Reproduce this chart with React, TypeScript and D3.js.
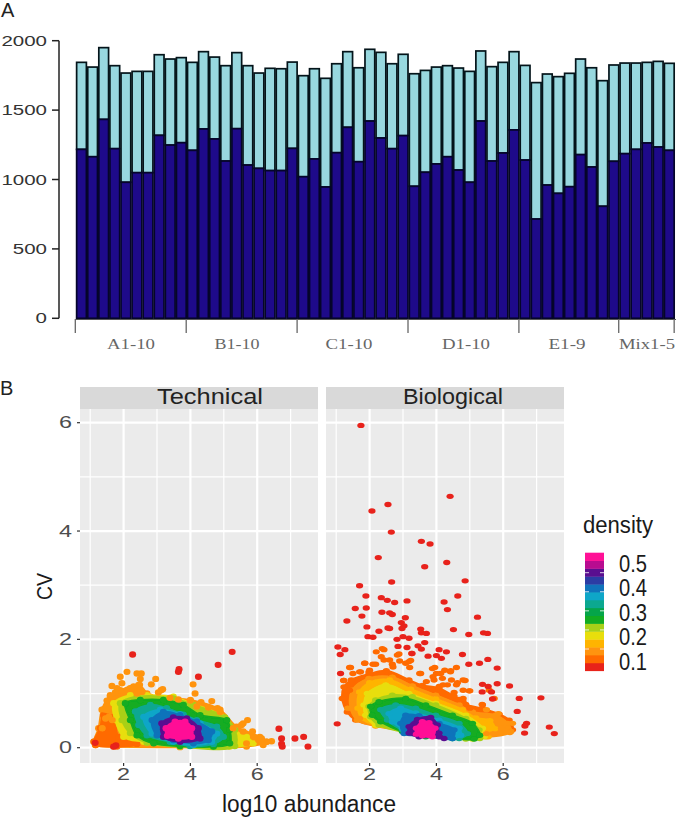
import React from "react";
import * as d3 from "d3";

// ---------- Panel A data ----------
const sampleGroups = ["A1-10", "B1-10", "C1-10", "D1-10", "E1-9", "Mix1-5"];
const groupSizes = [10, 10, 10, 10, 9, 5];
const totalCounts = [
  1844, 1810, 1950, 1820, 1767, 1779, 1779, 1899, 1868, 1878,
  1844, 1921, 1882, 1820, 1914, 1820, 1767, 1801, 1798, 1846,
  1748, 1798, 1729, 1834, 1921, 1805, 1938, 1916, 1834, 1902,
  1762, 1786, 1810, 1820, 1803, 1779, 1926, 1813, 1844, 1921,
  1822, 1698, 1760, 1741, 1765, 1868, 1805, 1712, 1825,
  1839, 1839, 1844, 1851, 1837,
];
const quantCounts = [
  1217, 1164, 1433, 1222, 980, 1049, 1049, 1318, 1248, 1265,
  1210, 1364, 1292, 1133, 1366, 1104, 1080, 1064, 1064, 1224,
  1020, 1148, 946, 1193, 1376, 1128, 1421, 1299, 1222, 1316,
  951, 1052, 1112, 1164, 1068, 980, 1421, 1133, 1191, 1357,
  1140, 715, 960, 900, 948, 1179, 1090, 807, 1131,
  1186, 1217, 1263, 1234, 1210,
];
const countTicks = [0, 500, 1000, 1500, 2000];

// ---------- Panel B data (log10 abundance, CV) ----------
type P = [number, number];
const densityBreaks = [0.01, 0.05, 0.09, 0.13, 0.17, 0.21, 0.25, 0.3, 0.34, 0.38, 0.42, 0.46, 0.5, 0.545, 0.59];
const densityColors = ["#e8231a", "#ff6a00", "#ff9410", "#ffb400", "#e8de0c", "#a8d018", "#12ac22", "#05a54a", "#0ca890", "#0ea6c8", "#1073bb", "#2c3ca4", "#5a0e90", "#b80c90", "#ff1096"];
const legendTicks = [0.1, 0.2, 0.3, 0.4, 0.5];
const xTicks = [2, 4, 6];
const xMinor = [1, 3, 5, 7];
const yTicks = [0, 2, 4, 6];
const yMinor = [1, 3, 5];

const techRed: P[] = [[2.27,1.72],[5.25,1.77],[4.83,1.53],[3.66,1.45],[3.64,1.40],[4.24,1.31],[6.65,0.35],[7.13,0.17],[7.39,0.20],[7.52,0.02],[6.73,0.17],[6.73,0.07],[6.75,0.02],[1.77,0.04],[1.70,0.02],[1.15,0.09]];
const techOrange: P[] = [[4.08,1.17],[4.14,1.00],[2.10,1.40],[1.90,1.31],[2.40,1.37],[2.53,1.37],[2.50,1.27],[1.65,1.14],[1.80,1.10],[1.95,1.19],[2.30,1.13],[2.48,1.16],[2.20,1.10],[2.83,1.17],[2.96,1.27],[3.17,1.08],[3.04,1.02],[1.75,1.02],[1.60,0.94],[1.50,0.87],[2.55,1.03],[2.40,1.00],[4.00,0.87],[4.32,0.84],[4.64,0.86],[4.81,0.73],[4.19,0.76],[4.54,0.74],[4.89,0.66],[5.58,0.45],[5.71,0.51],[5.53,0.42],[5.28,0.36],[5.58,0.30],[5.86,0.30],[6.13,0.17],[6.43,0.12],[6.28,0.11],[6.04,0.14],[6.18,0.05],[5.68,0.08],[1.41,0.71],[1.50,0.70],[1.46,0.54],[1.56,0.57],[1.66,0.51],[1.36,0.36],[3.39,0.92],[3.64,0.89],[3.12,1.06]];

const techBands: [number, P[]][] = [
  [0.09, [[1.11,0.11],[1.25,0.36],[1.35,0.70],[1.60,0.97],[1.90,1.06],[2.45,1.16],[2.70,1.00],[2.80,0.94],[4.00,0.88],[4.89,0.70],[5.38,0.39],[6.08,0.20],[6.28,0.11],[5.68,0.02],[3.69,0.01],[1.70,0.02],[1.16,0.05]]],
  [0.05, [[1.11,0.11],[1.30,0.36],[1.40,0.60],[1.70,0.57],[1.85,0.20],[2.35,0.14],[2.40,0.07],[1.80,0.02],[1.16,0.05]]],
  [0.17, [[1.70,0.82],[2.20,0.97],[2.70,0.97],[3.49,0.94],[4.01,0.82],[4.89,0.60],[5.13,0.39],[5.68,0.20],[5.88,0.08],[5.18,0.02],[3.69,0.03],[2.60,0.11],[2.00,0.20],[1.75,0.51]]],
  [0.21, [[1.90,0.82],[2.40,0.94],[3.49,0.91],[4.09,0.79],[5.03,0.56],[5.33,0.33],[5.33,0.03],[3.69,0.02],[2.70,0.09],[2.20,0.27],[1.95,0.51]]],
  [0.27, [[2.05,0.82],[2.50,0.88],[3.19,0.88],[3.79,0.79],[4.29,0.60],[5.09,0.51],[5.18,0.33],[5.18,0.08],[4.69,0.02],[3.69,0.03],[2.90,0.08],[2.40,0.23],[2.20,0.51]]],
  [0.34, [[2.35,0.67],[2.80,0.79],[3.29,0.73],[3.79,0.61],[4.19,0.51],[4.79,0.39],[4.99,0.20],[4.69,0.07],[3.99,0.03],[3.39,0.11],[2.70,0.23],[2.45,0.42]]],
  [0.38, [[2.60,0.57],[3.10,0.70],[3.69,0.62],[4.29,0.45],[4.79,0.26],[4.64,0.11],[4.09,0.05],[3.49,0.11],[2.85,0.26]]],
  [0.42, [[2.85,0.51],[3.19,0.66],[3.69,0.60],[4.19,0.48],[4.64,0.30],[4.54,0.14],[4.09,0.08],[3.49,0.14],[3.00,0.23]]],
  [0.48, [[3.14,0.45],[3.49,0.56],[3.89,0.54],[4.24,0.36],[4.29,0.17],[3.69,0.11],[3.19,0.20]]],
  [0.59, [[3.27,0.36],[3.54,0.48],[3.84,0.48],[4.04,0.36],[4.04,0.20],[3.64,0.17],[3.31,0.22]]],
];

const bioRed: P[] = [[1.74,5.95],[4.41,4.64],[2.55,4.49],[2.07,4.37],[2.65,3.98],[3.55,3.81],[3.81,3.76],[2.26,3.51],[4.31,3.42],[3.65,3.34],[2.66,3.06],[4.86,3.08],[1.70,2.99],[1.89,2.80],[4.64,2.80],[2.35,2.77],[2.53,2.72],[2.75,2.68],[3.12,2.71],[4.23,2.69],[1.57,2.57],[1.90,2.58],[2.37,2.50],[2.60,2.49],[2.68,2.46],[4.33,2.55],[1.77,2.43],[3.07,2.40],[5.23,2.41],[1.32,2.34],[2.95,2.31],[3.03,2.25],[1.92,2.23],[2.55,2.21],[2.60,2.20],[2.28,2.15],[2.97,2.20],[3.53,2.19],[4.51,2.18],[3.55,2.12],[3.70,2.11],[5.41,2.12],[5.53,2.11],[4.97,2.09],[1.95,2.05],[2.10,2.04],[3.00,2.05],[2.82,2.00],[3.18,2.02],[3.65,1.94],[3.45,1.88],[3.55,1.82],[2.85,1.87],[3.12,1.85],[1.05,1.86],[1.26,1.81],[1.12,1.72],[4.08,1.81],[4.30,1.77],[3.27,1.74],[3.75,1.69],[4.00,1.70],[4.15,1.65],[4.78,1.72],[5.54,1.63],[4.97,1.54],[5.29,1.56],[5.82,1.47],[1.13,1.37],[6.19,1.14],[5.82,1.18],[6.48,0.91],[7.13,0.92],[6.42,0.67],[1.03,0.44],[6.70,0.45],[6.65,0.40],[6.64,0.27],[7.38,0.38],[7.53,0.26],[5.38,1.17],[5.37,1.03],[5.55,1.13],[5.65,1.03],[5.68,0.90]];
const bioOrangeRed: P[] = [[2.38,1.83],[2.20,1.77],[2.88,1.73],[2.43,1.81],[2.83,1.71],[3.26,1.74],[3.08,1.56],[3.23,1.61],[1.86,1.56],[1.73,1.40],[1.43,1.48],[1.23,1.24],[1.98,1.40],[2.18,1.54],[2.43,1.62],[2.68,1.54],[3.53,1.37],[3.88,1.46],[4.13,1.37],[4.43,1.42],[4.18,1.28],[3.93,1.25],[4.63,1.20],[4.86,1.24],[4.08,1.13],[4.33,1.16],[4.53,1.02],[4.98,1.05],[4.68,0.89],[5.38,0.79],[5.73,0.91],[5.58,1.06],[1.40,1.48],[1.85,1.56],[2.10,1.54],[2.35,1.68],[2.60,1.62],[2.90,1.60],[3.18,1.59],[1.50,1.37],[1.22,1.24],[1.70,1.40],[3.50,1.37],[3.95,1.48],[4.25,1.43],[4.42,1.40],[4.60,1.48],[4.80,1.25],[4.00,1.37],[3.20,1.48],[4.80,1.06],[5.00,1.05],[4.60,1.16],[4.20,1.16],[4.45,1.25],[3.90,1.31],[1.22,0.90],[1.40,1.06],[5.37,0.80],[2.00,1.43],[2.70,1.49],[3.70,1.22],[5.00,0.73],[4.80,0.91]];
const bioGold: P[] = [[1.35,0.73],[1.70,0.54],[5.50,0.70],[5.85,0.63],[6.10,0.45],[6.28,0.45],[6.20,0.28],[5.70,0.26],[5.50,0.26],[5.95,0.36]];

const bioBands: [number, P[]][] = [
  [0.05, [[1.23,1.12],[1.45,1.25],[1.98,1.36],[2.5,1.42],[3.18,1.25],[3.58,1.15],[4.08,1.1],[4.53,0.95],[4.8,0.85],[4.88,0.8],[5.38,0.72],[5.88,0.62],[6.18,0.51],[6.28,0.33],[5.38,0.22],[3.68,0.51],[2.18,0.42],[1.58,0.51],[1.33,0.66],[1.18,0.91]]],
  [0.09, [[1.43,0.73],[1.48,1.06],[1.98,1.28],[2.68,1.3],[3.28,1.14],[3.98,0.97],[4.68,0.79],[5.08,0.66],[5.78,0.60],[6.13,0.45],[6.23,0.30],[5.48,0.20],[2.18,0.40],[1.63,0.51]]],
  [0.13, [[1.65,0.73],[1.7,1.03],[2.0,1.2],[2.6,1.25],[3.23,1.08],[3.98,0.9],[4.78,0.7],[5.18,0.55],[5.6,0.5],[5.75,0.35],[5.55,0.2],[3,0.35],[2.18,0.41],[1.75,0.55]]],
  [0.17, [[1.83,0.79],[1.93,1.00],[2.48,1.16],[3.18,1.00],[3.98,0.82],[4.88,0.60],[5.38,0.36],[5.43,0.20],[5.08,0.16],[3.18,0.39],[2.18,0.42],[1.88,0.60]]],
  [0.21, [[1.98,0.76],[2.18,0.88],[2.68,0.97],[3.28,0.94],[3.98,0.79],[4.88,0.54],[5.28,0.33],[5.30,0.17],[4.88,0.16],[3.18,0.27],[2.28,0.42],[2.03,0.57]]],
  [0.27, [[2.03,0.76],[2.28,0.85],[3.08,0.91],[3.68,0.79],[4.48,0.60],[5.08,0.45],[5.30,0.23],[5.13,0.16],[4.48,0.17],[3.68,0.20],[2.98,0.30],[2.33,0.48],[2.08,0.60]]],
  [0.34, [[2.33,0.70],[2.78,0.79],[3.38,0.73],[3.98,0.60],[4.68,0.45],[4.93,0.26],[4.68,0.17],[3.68,0.22],[2.98,0.33],[2.53,0.51]]],
  [0.38, [[2.58,0.63],[2.93,0.73],[3.38,0.64],[4.08,0.51],[4.68,0.36],[4.73,0.23],[4.48,0.17],[3.68,0.23],[2.98,0.36],[2.68,0.48]]],
  [0.42, [[2.93,0.45],[3.08,0.60],[3.48,0.59],[4.08,0.45],[4.53,0.33],[4.48,0.17],[3.68,0.23],[3.03,0.26]]],
  [0.5, [[3.18,0.39],[3.43,0.52],[3.83,0.56],[4.03,0.42],[4.08,0.27],[4.23,0.17],[4.08,0.20],[3.48,0.20],[3.18,0.27]]],
  [0.59, [[3.40,0.36],[3.58,0.48],[3.78,0.46],[3.96,0.36],[3.88,0.20],[3.58,0.22],[3.40,0.25]]],
];

const panelTechnical = { title: "Technical", bands: techBands, dots: [[0.09, techOrange], [0.01, techRed]] as [number, P[]][] };
const panelBiological = { title: "Biological", bands: bioBands, dots: [[0.09, bioGold], [0.05, bioOrangeRed], [0.01, bioRed]] as [number, P[]][] };

// ---------- Layout ----------
const SANS = "'Liberation Sans', Arial, sans-serif";
const SERIF = "'Liberation Serif', serif";
const labelCentres = [131, 237, 349, 466, 567, 647];
const barIds = d3.range(totalCounts.length);
const xBar = d3.scaleBand<number>().domain(barIds).range([75.3, 675.5]).padding(0.12);
const yCount = d3.scaleLinear().domain([0, 2000]).range([318.3, 40.7]);
const yCV = d3.scaleLinear().domain([0, 6]).range([747.7, 422.7]);
const colorOf = d3.scaleThreshold<number, string>()
  .domain(densityBreaks.slice(0, -1).map((b, i) => (b + densityBreaks[i + 1]) / 2))
  .range(densityColors);
const legendScale = d3.scaleLinear().domain([0.1, 0.5]).range([649, 572.7]);
const legendLabelY = d3.scaleLinear().domain([0.1, 0.5]).range([669.5, 572]);
const groupEdges = d3.cumsum(groupSizes);

function Facet({ left, right, rx, ry, panel }: { left: number; right: number; rx: number; ry: number; panel: typeof panelTechnical }) {
  const x = d3.scaleLinear().domain([2, 6]).range([left + 43.6, left + 177.2]);
  const top = 409, bottom = 763;
  const blob = d3.line<P>().x((d) => x(d[0])).y((d) => yCV(d[1])).curve(d3.curveCatmullRomClosed);
  const textX = (left + right) / 2;
  return (
    <g>
      <rect x={left} y={387} width={right - left} height={22} fill="#d9d9d9" />
      <text x={textX + (panel.title === "Technical" ? 11 : 8)} y={404} textAnchor="middle" fontFamily={SANS} fontSize={22} fill="#222"
        textLength={panel.title === "Technical" ? 106 : 100} lengthAdjust="spacingAndGlyphs">{panel.title}</text>
      <rect x={left} y={top} width={right - left} height={bottom - top} fill="#ebebeb" />
      {yMinor.map((v) => <line key={v} x1={left} x2={right} y1={yCV(v)} y2={yCV(v)} stroke="#fff" strokeWidth={1.2} />)}
      {xMinor.map((v) => <line key={v} x1={x(v)} x2={x(v)} y1={top} y2={bottom} stroke="#fff" strokeWidth={1.2} />)}
      {yTicks.map((v) => <line key={v} x1={left} x2={right} y1={yCV(v)} y2={yCV(v)} stroke="#fff" strokeWidth={2.2} />)}
      {xTicks.map((v) => <line key={v} x1={x(v)} x2={x(v)} y1={top} y2={bottom} stroke="#fff" strokeWidth={2.2} />)}
      <g filter="url(#soft)">
        {panel.bands.map(([density, pts], i) => (
          <g key={i} fill={colorOf(density)}>
            <path d={blob(pts) ?? ""} stroke={colorOf(density)} strokeWidth={2} strokeLinejoin="round" />
            {pts.map((p, j) => <ellipse key={j} cx={x(p[0])} cy={yCV(p[1])} rx={rx} ry={ry} />)}
          </g>
        ))}
        {panel.dots.map(([density, pts], i) => (
          <g key={i} fill={colorOf(density)}>
            {pts.map((p, j) => <ellipse key={j} cx={x(p[0])} cy={yCV(p[1])} rx={rx} ry={ry} />)}
          </g>
        ))}
      </g>
      {xTicks.map((v) => (
        <g key={v}>
          <line x1={x(v)} x2={x(v)} y1={bottom} y2={bottom + 3} stroke="#333" strokeWidth={1.2} />
          <text x={x(v)} y={780} textAnchor="middle" fontFamily={SANS} fontSize={16} fill="#4d4d4d" textLength={13} lengthAdjust="spacingAndGlyphs">{v}</text>
        </g>
      ))}
    </g>
  );
}

export default function App() {
  return (
    <svg width={676} height={818} viewBox="0 0 676 818" style={{ position: "absolute", left: 0, top: 0, background: "#fff" }}>
      <defs>
        <filter id="soft" x="-5%" y="-5%" width="110%" height="110%">
          <feGaussianBlur stdDeviation={0.5} />
        </filter>
      </defs>

      {/* Panel A */}
      <text x={1} y={17} fontFamily={SANS} fontSize={20} fill="#222">A</text>
      <line x1={59} x2={59} y1={yCount(2000)} y2={yCount(0)} stroke="#222" strokeWidth={1.5} />
      {countTicks.map((v) => (
        <g key={v}>
          <line x1={52} x2={59} y1={yCount(v)} y2={yCount(v)} stroke="#222" strokeWidth={1.5} />
          <text x={47} y={yCount(v) + 5} textAnchor="end" fontFamily={SANS} fontSize={15.5} fill="#333"
            textLength={String(v).length * 11.4} lengthAdjust="spacingAndGlyphs">{v}</text>
        </g>
      ))}
      {barIds.map((i) => (
        <g key={i}>
          <rect x={xBar(i)} y={yCount(totalCounts[i])} width={xBar.bandwidth()} height={yCount(quantCounts[i]) - yCount(totalCounts[i])}
            fill="#98d8df" stroke="#04141a" strokeWidth={1.7} />
          <rect x={xBar(i)} y={yCount(quantCounts[i])} width={xBar.bandwidth()} height={yCount(0) - yCount(quantCounts[i])}
            fill="#1e0a8a" stroke="#05052a" strokeWidth={1.7} />
        </g>
      ))}
      <line x1={75} x2={676} y1={319.5} y2={319.5} stroke="#555" strokeWidth={1.2} />
      {[0, ...groupEdges].map((n, i) => {
        const px = i === 0 ? 75.3 : xBar.step() * n + 75.3;
        return <line key={i} x1={px} x2={px} y1={319} y2={333} stroke="#666" strokeWidth={1.3} />;
      })}
      {sampleGroups.map((g, i) => (
        <text key={g} x={labelCentres[i]} y={349} textAnchor="middle" fontFamily={SERIF} fontSize={15} fill="#666"
          textLength={[48, 45, 47, 48, 37, 56][i]} lengthAdjust="spacingAndGlyphs">{g}</text>
      ))}

      {/* Panel B */}
      <text x={0} y={395} fontFamily={SANS} fontSize={20} fill="#222">B</text>
      <Facet left={80} right={318} rx={3.5} ry={3.2} panel={panelTechnical} />
      <Facet left={326} right={564} rx={3.6} ry={2.7} panel={panelBiological} />
      {yTicks.map((v) => (
        <g key={v}>
          <line x1={77} x2={80} y1={yCV(v)} y2={yCV(v)} stroke="#333" strokeWidth={1.2} />
          <text x={72} y={yCV(v) + 5.5} textAnchor="end" fontFamily={SANS} fontSize={16} fill="#4d4d4d" textLength={13} lengthAdjust="spacingAndGlyphs">{v}</text>
        </g>
      ))}
      <text x={309} y={812} textAnchor="middle" fontFamily={SANS} fontSize={23} fill="#1a1a1a" textLength={174} lengthAdjust="spacingAndGlyphs">log10 abundance</text>
      <text transform="translate(52,586.5) rotate(-90)" textAnchor="middle" fontFamily={SANS} fontSize={22} fill="#1a1a1a" textLength={27} lengthAdjust="spacingAndGlyphs">CV</text>

      {/* Legend */}
      <text x={583} y={533} fontFamily={SANS} fontSize={23} fill="#1a1a1a" textLength={70} lengthAdjust="spacingAndGlyphs">density</text>
      {densityColors.map((c, i) => {
        const step = 118 / densityColors.length;
        return <rect key={c} x={585} y={552.7 + (densityColors.length - 1 - i) * step} width={19} height={step + 0.4} fill={c} />;
      })}
      {legendTicks.map((v) => (
        <g key={v}>
          <line x1={585} x2={589} y1={legendScale(v)} y2={legendScale(v)} stroke="#fff" strokeWidth={0.8} />
          <line x1={600} x2={604} y1={legendScale(v)} y2={legendScale(v)} stroke="#fff" strokeWidth={0.8} />
          <text x={619} y={legendLabelY(v)} fontFamily={SANS} fontSize={24.5} fill="#1a1a1a" textLength={28} lengthAdjust="spacingAndGlyphs">{v.toFixed(1)}</text>
        </g>
      ))}
    </svg>
  );
}
